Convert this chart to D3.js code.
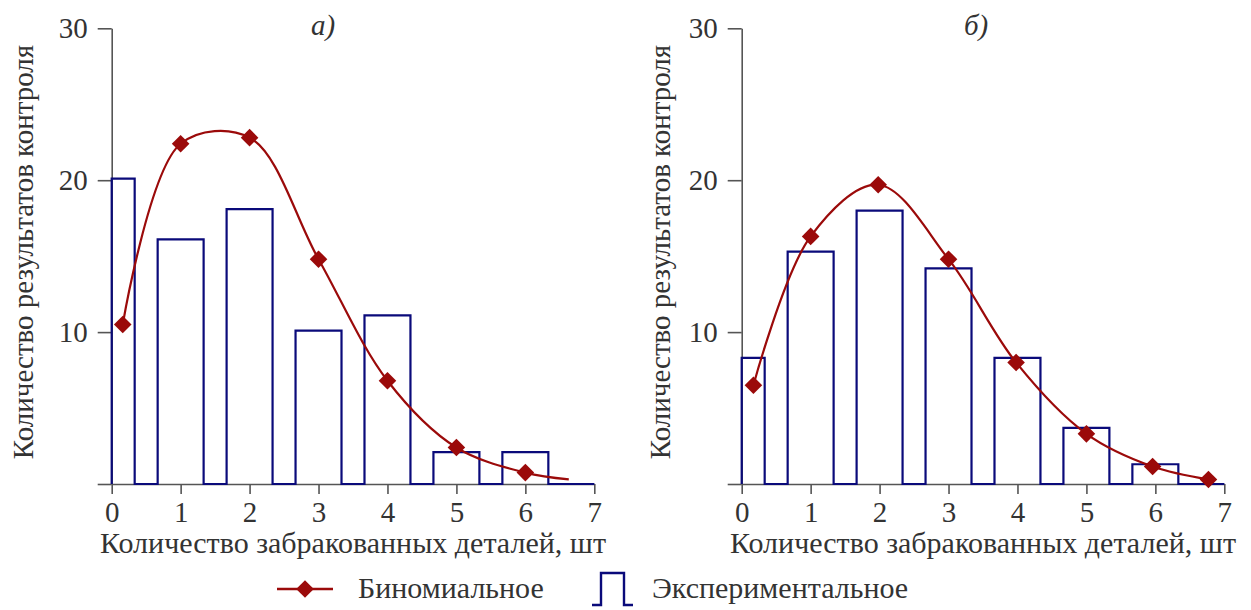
<!DOCTYPE html>
<html>
<head>
<meta charset="utf-8">
<script src="https://cdn.jsdelivr.net/npm/d3@7"></script>
<style>
  html, body { margin: 0; padding: 0; background: #fff; }
  svg { display: block; }
  text { font-family: "Liberation Serif", "Times New Roman", serif; fill: #333; }
</style>
</head>
<body>
<svg id="chart" width="1251" height="610"></svg>
<script>
// Number of rejected parts per inspection (x categories)
const defects = [0, 1, 2, 3, 4, 5, 6];
const xTicks = [0, 1, 2, 3, 4, 5, 6, 7];
const yTicks = [0, 10, 20, 30];

// Panel а): experimental counts and binomial fit
const expA = [20.1, 16.1, 18.1, 10.1, 11.1, 2.1, 2.1];
const binomXA = [0.16, 1, 2, 3, 4, 5, 6];
const binomA = [10.5, 22.4, 22.8, 14.8, 6.8, 2.4, 0.75];
const tailXA = [6.63];
const tailA = [0.3];

// Panel б): experimental counts and binomial fit
const expB = [8.3, 15.3, 18.0, 14.2, 8.3, 3.7, 1.3];
const binomXB = [0.17, 1, 1.98, 3, 3.98, 5, 5.96, 6.77];
const binomB = [6.5, 16.3, 19.7, 14.8, 8.0, 3.3, 1.15, 0.3];
const tailXB = [];
const tailB = [];

const panelLabels = ["а)", "б)"];
const xTitle = "Количество забракованных деталей, шт";
const yTitle = "Количество результатов контроля";
const legendLabels = ["Биномиальное", "Экспериментальное"];

const RED = "#9b0a0a";
const NAVY = "#0a0a7a";
const AXIS = "#555";
const HALF = 1 / 3; // half width of a histogram bar, in x units

const svg = d3.select("#chart");
const diamond = d3.symbol(d3.symbolSquare, 155);

function drawPanel(cfg) {
  const x = d3.scaleLinear().domain([0, 7]).range([cfg.left, cfg.left + 482.6]);
  const y = d3.scaleLinear().domain([0, 30]).range([484, 28.3]);
  const g = svg.append("g");

  // axes
  const yAxis = d3.axisLeft(y).tickValues(yTicks).tickSize(14).tickPadding(10)
    .tickSizeOuter(0).tickFormat(d => d === 0 ? "" : d3.format("d")(d));
  const xAxis = d3.axisBottom(x).tickValues(xTicks).tickSize(10).tickPadding(7)
    .tickSizeOuter(0).tickFormat(d3.format("d"));

  const ya = g.append("g").attr("transform", `translate(${x(0)},0)`).call(yAxis);
  const xa = g.append("g").attr("transform", `translate(0,${y(0)})`).call(xAxis);
  [ya, xa].forEach(a => {
    a.selectAll("path, line").attr("stroke", AXIS).attr("stroke-width", 1.6);
    a.selectAll("text").style("font-size", "29px").style("font-family", "Liberation Serif").attr("fill", "#333");
  });

  // histogram outline as a single step line
  const steps = [[0, 0]];
  cfg.exp.forEach((v, i) => {
    const c = defects[i];
    const l = Math.max(0, c - HALF), r = c + HALF;
    if (i > 0) steps.push([l, 0]);
    steps.push([l, v], [r, v], [r, 0]);
  });
  steps.push([7, 0]);
  g.append("path")
    .attr("d", d3.line().x(d => x(d[0])).y(d => y(d[1]))(steps))
    .attr("fill", "none").attr("stroke", NAVY).attr("stroke-width", 2.2)
    .attr("stroke-linejoin", "miter");

  // binomial curve
  const pts = cfg.bx.map((v, i) => [v, cfg.by[i]]);
  const curvePts = pts.concat(cfg.tx.map((v, i) => [v, cfg.ty[i]]));
  g.append("path")
    .attr("d", d3.line().x(d => x(d[0])).y(d => y(d[1])).curve(d3.curveCatmullRom.alpha(0.5))(curvePts))
    .attr("fill", "none").attr("stroke", RED).attr("stroke-width", 2.2);
  g.selectAll("path.marker").data(pts).enter().append("path")
    .attr("class", "marker")
    .attr("d", diamond)
    .attr("transform", d => `translate(${x(d[0])},${y(d[1])}) rotate(45)`)
    .attr("fill", RED);

  // panel letter
  g.append("text").attr("x", cfg.labelX).attr("y", 35)
    .attr("text-anchor", "middle")
    .style("font-size", "29px").style("font-style", "italic")
    .text(cfg.label);

  // axis titles
  g.append("text").attr("x", (x(0) + x(7)) / 2).attr("y", 553)
    .attr("text-anchor", "middle").style("font-size", "30px").text(xTitle);
  g.append("text")
    .attr("transform", `translate(${cfg.yTitleX},252) rotate(-90)`)
    .attr("text-anchor", "middle").style("font-size", "29px").text(yTitle);
}

drawPanel({ left: 111.7, exp: expA, bx: binomXA, by: binomA, tx: tailXA, ty: tailA,
  label: panelLabels[0], labelX: 323, yTitleX: 33 });
drawPanel({ left: 741.7, exp: expB, bx: binomXB, by: binomB, tx: tailXB, ty: tailB,
  label: panelLabels[1], labelX: 976, yTitleX: 670 });

// legend
const lg = svg.append("g");
lg.append("line").attr("x1", 277).attr("x2", 333).attr("y1", 589).attr("y2", 589)
  .attr("stroke", RED).attr("stroke-width", 2.4);
lg.append("path").attr("d", diamond).attr("transform", "translate(305,589) rotate(45)").attr("fill", RED);
lg.append("text").attr("x", 358).attr("y", 598).style("font-size", "30px").text(legendLabels[0]);
lg.append("path")
  .attr("d", d3.line()([[592, 605], [601, 605], [601, 573], [624, 573], [624, 605], [633, 605]]))
  .attr("fill", "none").attr("stroke", NAVY).attr("stroke-width", 2.4);
lg.append("text").attr("x", 652).attr("y", 598).style("font-size", "30px").text(legendLabels[1]);
</script>
</body>
</html>
